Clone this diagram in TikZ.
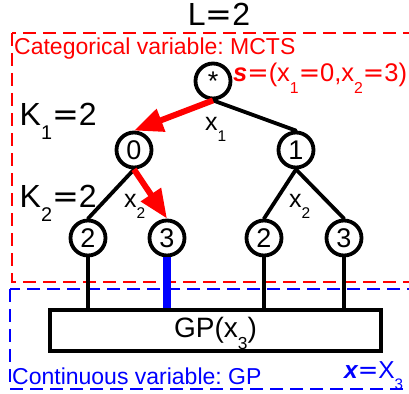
\documentclass[tikz,border=0pt]{standalone}
\usepackage{fontspec}
\setmainfont{Liberation Sans}
\newfontfamily\dvfont{DejaVu Sans}
\usepackage{graphicx}
\usetikzlibrary{arrows.meta}
\frenchspacing
\newcommand\sbs[1]{\raisebox{-0.45em}{\scalebox{0.62}{#1}}}
\newcommand\eqs{{\dvfont =}}
\newcommand\fsz[1]{\fontsize{#1}{#1}\selectfont}
\begin{document}
\begin{tikzpicture}[x=1pt,y=-1pt,
  tnode/.style={circle,draw,line width=3.8pt,fill=white,minimum size=35pt,inner sep=0pt,font=\fsz{27}},
  edge/.style={line width=3.8pt,line cap=round},
  redarrow/.style={line width=6pt,red,-{Triangle[length=29pt,width=23pt]}},
  bluebar/.style={line width=8pt,blue},
  redbox/.style={draw=red,line width=2pt,dash pattern=on 13pt off 7pt},
  bluebox/.style={draw=blue,line width=2pt,dash pattern=on 13pt off 7pt},
  gpbox/.style={draw,line width=4pt,minimum width=331pt,minimum height=41pt,inner sep=0pt},
  lbl/.style={inner sep=0pt,anchor=base west}
]
\useasboundingbox (0,0) rectangle (409,393);
\clip (0,0) rectangle (409,393);
% dashed regions
\draw[redbox] (12,33) rectangle (425,282);
\draw[bluebox] (10,289) rectangle (425,389);
% texts
\node[inner sep=0pt,anchor=base,font=\fsz{32}] (L) at (219,26) {L\eqs 2};
\node[lbl,font=\fsz{23},text=red] (cat) at (14,55) {Categorical variable: MCTS};
\node[lbl,font=\fsz{23},text=blue] (cont) at (12,384) {Continuous variable: GP};
\node[lbl,font=\fsz{32}] (K1) at (19.5,125) {K\sbs{1}\eqs 2};
\node[lbl,font=\fsz{32}] (K2) at (19.5,207) {K\sbs{2}\eqs 2};
\node[lbl,font=\fsz{25.5},text=red] (s) at (233,82) {{\bfseries\itshape s}\eqs(x\sbs{1}\eqs 0,x\sbs{2}\eqs 3)};
\node[lbl,font=\fsz{24.5},text=blue] (xx) at (344,378) {{\bfseries\itshape x}\eqs X\sbs{3}};
% nodes
\node[tnode] (root) at (213,81) {*};
\node[tnode] (n0) at (134,150) {0};
\node[tnode] (n1) at (296,150) {1};
\node[tnode] (l1) at (88,238) {2};
\node[tnode] (l2) at (167,238) {3};
\node[tnode] (l3) at (264,238) {2};
\node[tnode] (l4) at (344,238) {3};
\node[gpbox] (gp) at (215.5,330.5) {};
\node[inner sep=0pt,anchor=base,font=\fsz{28}] (gpt) at (215.5,337) {GP(x\sbs{3})};
% edge labels
\node[lbl,font=\fsz{25}] (e1) at (205,130) {x\sbs{1}};
\node[lbl,font=\fsz{25}] (e2) at (124,207) {x\sbs{2}};
\node[lbl,font=\fsz{25}] (e3) at (289,207) {x\sbs{2}};
% edges
\draw[edge] (root.south) -- (n1.north);
\draw[edge] (n0.south) -- (l1.north);
\draw[edge] (n1.south) -- (l3.north);
\draw[edge] (n1.south) -- (l4.north);
\draw[redarrow] (root.south) -- (n0.north);
\draw[redarrow] (n0.south) -- (l2.north);
\draw[edge,line cap=butt] (l1.south) -- (l1 |- gp.north);
\draw[edge,line cap=butt] (l3.south) -- (l3 |- gp.north);
\draw[edge,line cap=butt] (l4.south) -- (l4 |- gp.north);
\draw[bluebar] (l2.south) -- (l2 |- gp.north);
\end{tikzpicture}
\end{document}
